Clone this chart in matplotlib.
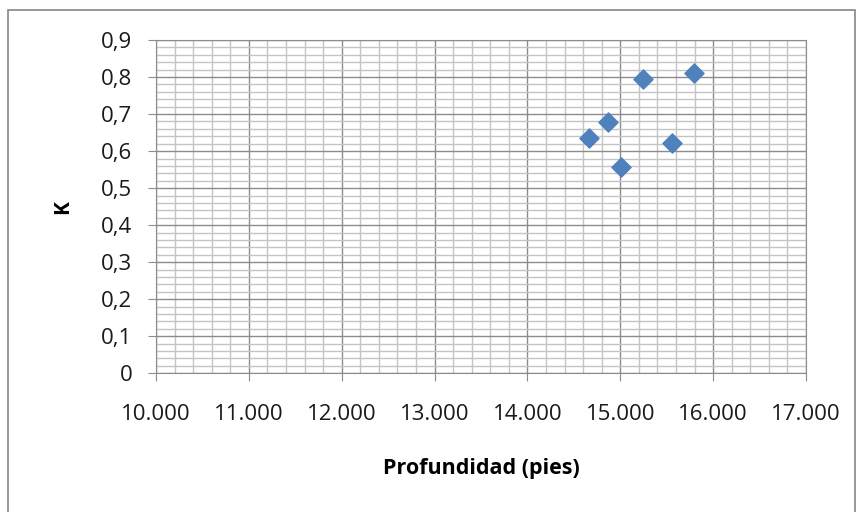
import matplotlib
matplotlib.use("Agg")
import matplotlib.pyplot as plt
from matplotlib.ticker import MultipleLocator, FuncFormatter
from matplotlib.patches import Rectangle

# data
profundidad = [14664, 14869, 15005, 15242, 15562, 15794]
k_values = [0.636, 0.678, 0.557, 0.796, 0.622, 0.812]

plt.rcParams['font.family'] = ['Open Sans', 'DejaVu Sans']

fig = plt.figure(figsize=(8.6, 5.12), dpi=100)
ax = fig.add_axes([156 / 860, 1 - 373.3 / 512, (806 - 156) / 860, (373.3 - 40) / 512])

# outer chart border
fig.patches.append(Rectangle((8 / 860, -0.05), (855 - 8) / 860, 1 - 10 / 512 + 0.05,
                             transform=fig.transFigure, fill=False,
                             edgecolor='#868686', linewidth=1.2))

ax.set_xlim(10000, 17000)
ax.set_ylim(0, 0.9)
ax.xaxis.set_major_locator(MultipleLocator(1000))
ax.xaxis.set_minor_locator(MultipleLocator(200))
ax.yaxis.set_major_locator(MultipleLocator(0.1))
ax.yaxis.set_minor_locator(MultipleLocator(0.02))

ax.grid(which='major', color='#8c8c8c', linewidth=1.0)
ax.grid(which='minor', color='#c4c4c4', linewidth=1.0)
ax.set_axisbelow(True)

ax.xaxis.set_major_formatter(FuncFormatter(lambda v, p: f"{int(round(v)):,}".replace(",", ".")))
ax.yaxis.set_major_formatter(FuncFormatter(lambda v, p: "0" if abs(v) < 1e-9 else f"{v:.1f}".replace(".", ",")))

ax.tick_params(which='major', length=6, color='#8c8c8c', labelsize=16, labelcolor='#1a1a1a')
ax.tick_params(axis='x', pad=16)
ax.tick_params(axis='y', pad=11)
ax.tick_params(which='minor', length=0)
for s in ax.spines.values():
    s.set_color('#8c8c8c')

ax.scatter(profundidad, k_values, marker='D', s=95, color='#4F81BD', zorder=3, clip_on=False)

ax.set_xlabel('Profundidad (pies)', fontsize=15.5, fontweight='bold', labelpad=24)
ax.set_ylabel('K', fontsize=15, fontweight='bold', labelpad=20)

fig.savefig('out.png', dpi=100)
